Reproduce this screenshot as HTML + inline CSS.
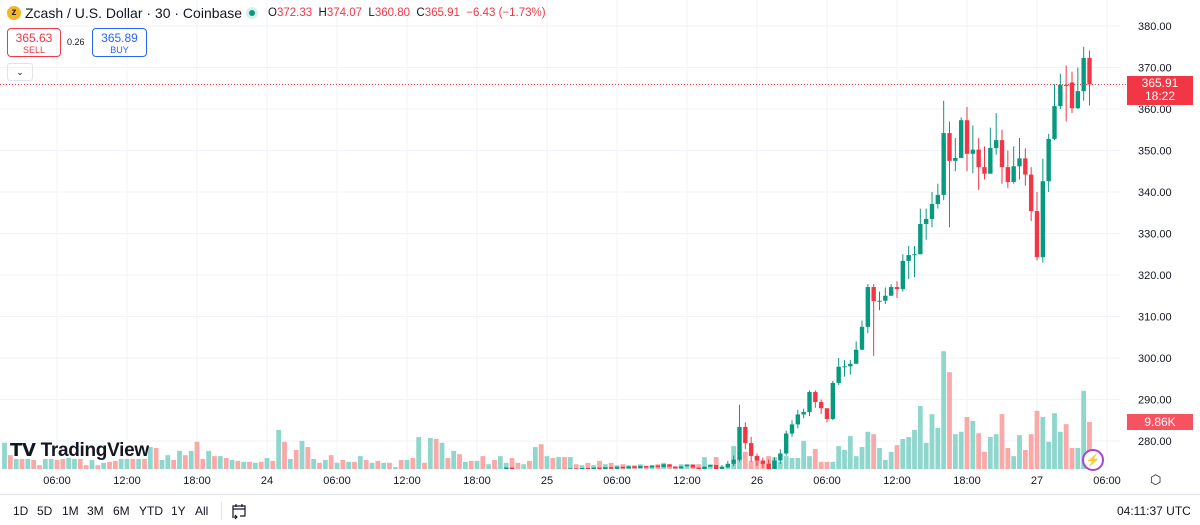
<!DOCTYPE html>
<html><head><meta charset="utf-8">
<style>
body{margin:0;width:1200px;height:525px;overflow:hidden;background:#fff;font-family:"Liberation Sans",sans-serif;position:relative}
.abs{position:absolute}
.hdr{font-size:14px;color:#131722}
.ohlc{font-size:11.5px;color:#131722}
.ohlc b{font-weight:normal;color:#f23645}
.tb{position:absolute;top:504px;font-size:12px;color:#131722}
</style></head><body>
<svg id="chart" class="abs" style="left:0;top:0" width="1200" height="525"></svg>

<div class="abs" style="left:7px;top:6px;width:14px;height:14px;border-radius:50%;background:#f4b728;color:#222;font-size:10px;text-align:center;line-height:14px;font-weight:bold">z</div>
<div class="abs hdr" style="left:25px;top:5px">Zcash / U.S. Dollar · 30 · Coinbase</div>
<div class="abs" style="left:246px;top:7px;width:12px;height:12px;border-radius:50%;background:#d6f0ec"><div style="margin:3px;width:6px;height:6px;border-radius:50%;background:#089981"></div></div>
<div class="abs ohlc" style="left:268px;top:7px">O<b>372.33</b>&nbsp; H<b>374.07</b>&nbsp; L<b>360.80</b>&nbsp; C<b>365.91</b>&nbsp; <b>−6.43 (−1.73%)</b></div>

<div class="abs" style="left:7px;top:28px;width:52px;height:27px;border:1px solid #f23645;border-radius:4px;text-align:center;color:#f23645"><div style="font-size:12px;margin-top:2px">365.63</div><div style="font-size:9px">SELL</div></div>
<div class="abs" style="left:67px;top:37px;font-size:9px;color:#131722">0.26</div>
<div class="abs" style="left:92px;top:28px;width:53px;height:27px;border:1px solid #2962ff;border-radius:4px;text-align:center;color:#2962ff"><div style="font-size:12px;margin-top:2px">365.89</div><div style="font-size:9px">BUY</div></div>
<div class="abs" style="left:7px;top:63px;width:24px;height:16px;border:1px solid #e0e3eb;border-radius:3px;text-align:center;font-size:9px;line-height:16px;color:#131722">⌄</div>

<div class="abs" style="left:10px;top:440px;font-size:19px;font-weight:bold;color:#131722;letter-spacing:-0.3px"><span style="font-size:18px">𝗧𝗩</span> TradingView</div>

<div class="abs" style="left:1127px;top:76px;width:66px;height:28px;background:#f23645;color:#fff;font-size:12px;text-align:center;line-height:13px;padding-top:1px">365.91<br>18:22</div>
<div class="abs" style="left:1127px;top:414px;width:66px;height:16px;background:#f7525f;color:#fff;font-size:12px;text-align:center;line-height:16px">9.86K</div>
<div class="abs" style="left:1082px;top:449px;width:18px;height:18px;border:2px solid #a843d8;border-radius:50%;color:#a843d8;font-size:12px;text-align:center;line-height:18px;background:#fff">⚡</div>
<div class="abs" style="left:1150px;top:472px;font-size:13px;color:#131722">⬡</div>

<div class="abs" style="left:0;top:494px;width:1200px;height:1px;background:#e0e3eb"></div>
<span class="tb" style="left:13px">1D</span>
<span class="tb" style="left:37px">5D</span>
<span class="tb" style="left:62px">1M</span>
<span class="tb" style="left:87px">3M</span>
<span class="tb" style="left:113px">6M</span>
<span class="tb" style="left:139px">YTD</span>
<span class="tb" style="left:171px">1Y</span>
<span class="tb" style="left:195px">All</span>
<div class="abs" style="left:221px;top:502px;width:1px;height:18px;background:#e0e3eb"></div>
<svg class="abs" style="left:230px;top:502px" width="18" height="18" viewBox="0 0 18 18"><path d="M3 14V4h12v10h-5M3 7h12M6 2v3M12 2v3M2 15h5M5 13l2 2-2 2" fill="none" stroke="#131722" stroke-width="1.2"/></svg>
<span class="tb" style="left:1117px">04:11:37 UTC</span>

<script>
const earlyCloses=[268,267.5,268.2,267.8,268.5,268,267.6,268.1,268.4,268,267.7,268.2,268.6,268.1,267.9,268.3,268,268.5,268.2,267.8,268.3,268.7,268.2,268.6,268.1,269,268.4,268.8,269.5,269,269.8,269.2,270,269.5,269.1,269.7,269.3,269.8,269.4,270,269.6,270.2,269.8,270.4,270,270.8,270.2,271.5,270.6,271.2,270.5,271,270.4,270.9,270.5,271,270.6,271.2,270.8,271.3,270.9,271.4,271,271.5,271.1,271.6,271.2,271.8,271.3,271.9,271.4,272,271.5,272.4,271.8,272.6,271.9,272.5,272,272.6,272.1,272.7,272.2,272.8,272.3,272.9,273.6,272.9,272.5,273,272.6,273.1,272.7,273.2,272.8,273.3,272.9,273.4,273,273.5,273.1,273.6,273.2,273.7,273.3,273.8,273.4,273.9,273.5,274,273.6,274.1,273.7,274.4,273.8,273.4,273.9,274.3,273.6,273.2,273.8,274.2,273.0];
const visOpens=[273.0,273.7,274.5,275.5,283.4,279.5,276.4,275.3,274.5,272.8,275.3,277,281.8,284,286.4,287,291.8,289.4,287.9,285.3,294,297.9,298,298.6,302,307.5,317.1,313.7,313.8,315,317.1,316.6,323.4,324.8,325,332.3,333.5,337.1,339.3,354.2,347.5,348.2,357.3,349.2,350.2,346,344.4,350.6,352.5,346,342.4,346.2,348.1,344.2,335.4,324.3,342.6,352.8,360.7,365.8,366.4,360.2,364.3,372.33];
const visCloses=[273.7,274.5,275.5,283.4,279.5,276.4,275.3,274.5,272.8,275.3,277,281.8,284,286.4,287,291.8,289.4,287.9,285.3,294,297.9,298,298.6,302,307.5,317.1,313.7,313.8,315,317.1,316.6,323.4,324.8,325,332.3,333.5,337.1,339.3,354.2,347.5,348.2,357.3,349.2,350.2,346,344.4,350.6,352.5,346,342.4,346.2,348.1,344.2,335.4,324.3,342.6,352.8,360.7,365.8,365.6,360.2,364.3,372.3,365.91];
const visHighs=[274.2,275.2,276.5,288.7,284.5,281,277,276,275.5,276,278,282.5,285,287.5,287.8,292.2,292.2,290,286.5,294.5,300,299.5,299.5,304,309,317.8,317.8,316,317,317.8,318.5,325,327,327,336,336,340,342,362,357,353,358,360.5,356,353,351,355.5,359,355,350,351,353,350.5,346,340,348,354,366,368.5,370.5,369,370,375,374.07];
const visLows=[273,273.5,274,275,278,275,274,273.5,272.2,272.5,274.5,276.5,281,283,285.5,286,288,286.5,284.5,285,293.5,295.5,296,299,302,306,300.5,311.5,313,315,314.5,316,319,319.5,325,328.5,331.5,336,338,331.5,345,348.5,345,344.5,340.5,343,349,349,342,341,342,343,341.5,333,323.5,323,340,352.5,360,357,359,360,362,360.8];
const volumesK=[5.5,2.9,2.1,2.1,2.1,1.9,0.8,2.1,2.1,1.9,2.1,2.3,2.1,2.1,0.8,1.9,0.8,1.3,1.5,1.7,2.1,2.1,2.1,2.1,2.1,4.6,4.4,1.9,2.9,1.9,3.8,2.9,3.8,5.7,2.1,3.8,2.7,2.7,2.3,1.9,1.7,1.5,1.5,1.3,1.5,2.3,1.7,8.2,5.7,2.1,4.0,5.9,4.6,2.1,1.3,1.9,2.9,1.3,1.9,1.5,1.5,2.7,1.9,1.3,1.7,1.3,1.3,0.4,1.9,1.9,2.3,6.7,1.3,6.5,6.3,5.5,2.3,3.8,3.1,1.5,1.7,1.7,2.7,1.0,1.9,2.7,1.3,2.3,1.3,1.0,1.7,4.6,5.2,2.7,2.3,2.5,2.5,2.5,1.0,0.8,1.3,0.8,1.7,1.0,1.3,0.8,1.0,0.8,0.8,1.0,0.6,0.8,1.0,1.3,0.8,0.6,1.0,1.0,1.0,1.0,2.5,1.0,2.5,
0.6,1.0,4.8,2.5,3.6,1.7,2.7,1.5,2.7,2.5,1.5,2.7,2.3,2.3,5.9,2.7,4.2,1.5,1.5,1.5,4.8,4.0,6.9,2.7,4.6,7.8,7.3,4.4,1.9,3.6,5.0,6.3,6.7,8.2,13.2,5.5,11.5,8.6,24.7,20.3,7.3,7.8,10.9,10.1,7.5,3.6,6.7,7.3,11.5,4.4,2.7,7.1,4.0,7.3,12.2,10.9,5.7,11.7,7.8,9.4,4.4,4.4,16.4,9.86];
const priceTicks=[380,370,360,350,340,330,320,310,300,290,280];
const timeLabels=["06:00","12:00","18:00","24","06:00","12:00","18:00","25","06:00","12:00","26","06:00","12:00","18:00","27","06:00"];
const timeLabelIdx=[9,21,33,45,57,69,81,93,105,117,129,141,153,165,177,189];

const NS="http://www.w3.org/2000/svg";
const svg=document.getElementById('chart');
const step=70/12, x0=4.5;
const xOf=i=>x0+i*step;
const yOf=p=>26+(380-p)*4.15;
const volBase=469, volPx=4.77;
const vY=k=>volBase-k*volPx;
function mk(tag,attrs,parent){const e=document.createElementNS(NS,tag);for(const k in attrs)e.setAttribute(k,attrs[k]);(parent||svg).appendChild(e);return e;}

const N=earlyCloses.length+visCloses.length;
const opens=[],closes=[],highs=[],lows=[];
for(let i=0;i<earlyCloses.length;i++){opens.push(i?earlyCloses[i-1]:earlyCloses[0]);closes.push(earlyCloses[i]);highs.push(null);lows.push(null);}
for(let i=0;i<visCloses.length;i++){opens.push(visOpens[i]);closes.push(visCloses[i]);highs.push(visHighs[i]);lows.push(visLows[i]);}

const defs=mk('defs',{});
const cp=mk('clipPath',{id:'pane'},defs);
mk('rect',{x:0,y:0,width:1120,height:469},cp);

priceTicks.forEach(p=>{
  const l=mk('line',{x1:0,x2:1120,y1:yOf(p),y2:yOf(p),stroke:'#f0f3fa','stroke-width':1});
  
  
  const t=mk('text',{x:1138,y:yOf(p)+4,'font-size':11,fill:'#131722','font-family':'Liberation Sans, sans-serif'});
  t.textContent=p.toFixed(2);
  
  
});
timeLabelIdx.forEach((ix,k)=>{
  const x=xOf(ix);
  const l=mk('line',{x1:x,x2:x,y1:0,y2:469,stroke:'#f0f3fa','stroke-width':1});
  
  
  const t=mk('text',{x:x,y:484,'font-size':11,fill:'#131722','text-anchor':'middle','font-family':'Liberation Sans, sans-serif'});
  t.textContent=timeLabels[k];
  
  
});

const g=mk('g',{'clip-path':'url(#pane)'});
for(let i=0;i<N;i++){
  const up=closes[i]>=opens[i];
  const r=mk('rect',{x:xOf(i)-2.4,y:vY(volumesK[i]),width:4.8,height:volumesK[i]*volPx,fill:up?'#8fd6cd':'#f9a9a7'},g);
  
  
}
const lp=mk('line',{x1:0,x2:1127,y1:yOf(365.91),y2:yOf(365.91),stroke:'#f23645','stroke-width':1,'stroke-dasharray':'1,2'});


for(let i=0;i<N;i++){
  const up=closes[i]>=opens[i];
  const col=up?'#089981':'#f23645';
  const x=xOf(i);
  if(highs[i]!==null){
    const w=mk('line',{x1:x,x2:x,y1:yOf(highs[i]),y2:yOf(lows[i]),stroke:col,'stroke-width':1},g);
    
    
  }
  const top=yOf(Math.max(opens[i],closes[i])),bot=yOf(Math.min(opens[i],closes[i]));
  const b=mk('rect',{x:x-2.2,y:top,width:4.4,height:Math.max(1,bot-top),fill:col},g);
  
  
}
</script>
</body></html>
